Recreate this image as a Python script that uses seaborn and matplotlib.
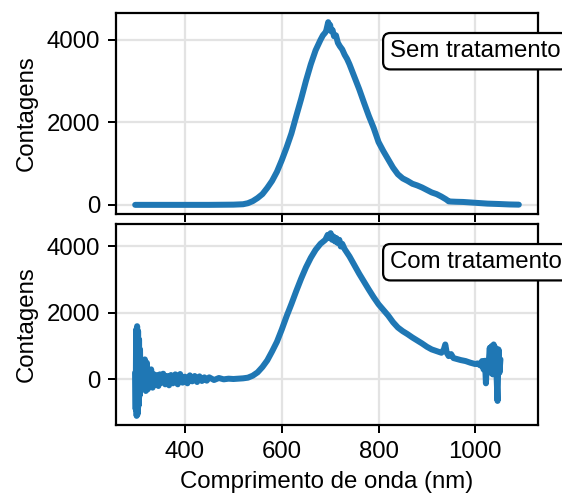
import matplotlib
matplotlib.use("Agg")
import matplotlib.pyplot as plt
import seaborn as sns
import pandas as pd

# Espectro sem tratamento (comprimento de onda em nm, contagens)
x_sem = [297, 350, 400, 450, 500, 520, 530, 540, 550, 560, 570, 580, 590,
         600, 610, 620, 630, 640, 650, 660, 670, 680, 685, 690, 692, 694,
         696, 698, 700, 702, 705, 708, 712, 716, 720, 725, 730, 735, 740,
         750, 760, 770, 780, 790, 800, 810, 820, 830, 840, 850, 860, 870,
         880, 890, 900, 910, 920, 930, 940, 945, 950, 960, 975, 1000, 1025,
         1050, 1070, 1090]
y_sem = [0, 0, 0, 0, 5, 15, 40, 90, 165, 260, 410, 580, 800,
         1080, 1390, 1730, 2150, 2560, 3000, 3400, 3740, 3990, 4100, 4170, 4220, 4320,
         4420, 4280, 4350, 4200, 4230, 4080, 4100, 3920, 3840, 3760, 3630, 3530, 3400,
         3100, 2800, 2470, 2150, 1860, 1520, 1300, 1100, 900, 740, 640, 580, 510,
         470, 420, 360, 300, 260, 200, 130, 85, 80, 75, 70, 50, 30,
         20, 10, 5]

# Espectro com tratamento
x_com = [297, 298, 299, 300, 301, 302, 303, 304, 305, 306, 307, 308, 309,
         311, 313, 315, 317, 319, 321, 323, 325, 327, 330, 333, 336, 339,
         342, 345, 348, 351, 355, 359, 363, 367, 371, 375, 380, 385, 390,
         395, 400, 405, 410, 415, 420, 425, 430, 435, 440, 445, 450, 460,
         470, 480, 490, 500, 510, 520, 530, 540, 550, 560, 570, 580, 590,
         600, 610, 620, 630, 640, 650, 660, 670, 680, 690, 695, 698, 701,
         704, 707, 710, 713, 716, 719, 722, 725, 730, 740, 750, 760, 770,
         780, 790, 800, 810, 820, 830, 840, 850, 860, 870, 880, 890, 900,
         910, 920, 930, 935, 938, 941, 945, 950, 955, 960, 970, 980, 990,
         1000, 1005, 1010, 1014, 1017, 1020, 1022, 1024, 1027, 1030, 1032,
         1034, 1036, 1038, 1040, 1042, 1044, 1046, 1048, 1050, 1052]
y_com = [200, -900, 1500, -1100, 1600, -1050, 1450, -800, 1200, -500, 900, -300, 400,
         -200, 250, -250, 600, -350, 500, -300, 250, -200, 300, -250, 150, -150,
         120, -200, 150, -100, 170, -150, 100, -180, 130, -120, 150, -150, 160,
         -100, 80, -120, 120, -60, 100, -80, 90, -50, 60, -40, 60, -20,
         40, 0, 20, 10, 20, 30, 50, 110, 210, 370, 570, 840, 1130,
         1500, 1900, 2270, 2660, 3030, 3370, 3660, 3900, 4080, 4200, 4350, 4250, 4400,
         4200, 4300, 4150, 4250, 4100, 4200, 4000, 4080, 3920, 3700, 3440, 3180, 2940,
         2700, 2470, 2260, 2090, 1920, 1720, 1560, 1450, 1360, 1260, 1170, 1080, 980,
         900, 850, 800, 900, 1050, 800, 700, 760, 640, 620, 580, 550, 500,
         460, 480, 420, 550, 300, 560, -120, 520, 350, 950, 200,
         1000, 150, 1050, 250, 950, 100, -650, 900, 200, 600]

rotulos = ["Sem tratamento", "Com tratamento"]

sns.set_theme(style="ticks")
plt.rcParams["font.family"] = ["Liberation Sans", "DejaVu Sans"]
plt.rcParams["font.size"] = 10.8
plt.rcParams["text.color"] = "black"
plt.rcParams["axes.labelcolor"] = "black"
plt.rcParams["xtick.color"] = "black"
plt.rcParams["ytick.color"] = "black"
plt.rcParams["axes.linewidth"] = 1.0
plt.rcParams["xtick.major.size"] = 3.5
plt.rcParams["ytick.major.size"] = 3.5
plt.rcParams["xtick.major.width"] = 0.9
plt.rcParams["ytick.major.width"] = 0.9

fig, axes = plt.subplots(2, 1, sharex=True, figsize=(562 / 160, 493 / 160), dpi=160)
fig.subplots_adjust(left=0.2064, right=0.9573, top=0.9736, bottom=0.1379, hspace=0.05)

dados = [pd.DataFrame({"x": x_sem, "y": y_sem}), pd.DataFrame({"x": x_com, "y": y_com})]

for ax, df, rot in zip(axes, dados, rotulos):
    sns.lineplot(data=df, x="x", y="y", ax=ax, color="#1f77b4", linewidth=2.7,
                 estimator=None, sort=False)
    ax.grid(True, color="#e3e3e3", linewidth=1.0)
    ax.set_axisbelow(True)
    for s in ax.spines.values():
        s.set_color("black")
        s.set_linewidth(1.0)
    ax.tick_params(colors="black", labelcolor="black", labelsize=10.8)
    ax.set_ylabel("Contagens", fontsize=10.8, color="black")
    ax.set_xlabel("")
    ax.set_yticks([0, 2000, 4000])
    ax.text(0.65, 0.81, rot, transform=ax.transAxes, fontsize=10.8, ha="left", va="center",
            color="black",
            bbox=dict(boxstyle="round,pad=0.3", facecolor="white", edgecolor="black", linewidth=1.0),
            clip_on=False)

axes[1].set_xticks([400, 600, 800, 1000])
axes[1].set_xlabel("Comprimento de onda (nm)", fontsize=10.8, color="black")

fig.savefig("out.png", dpi=160)
